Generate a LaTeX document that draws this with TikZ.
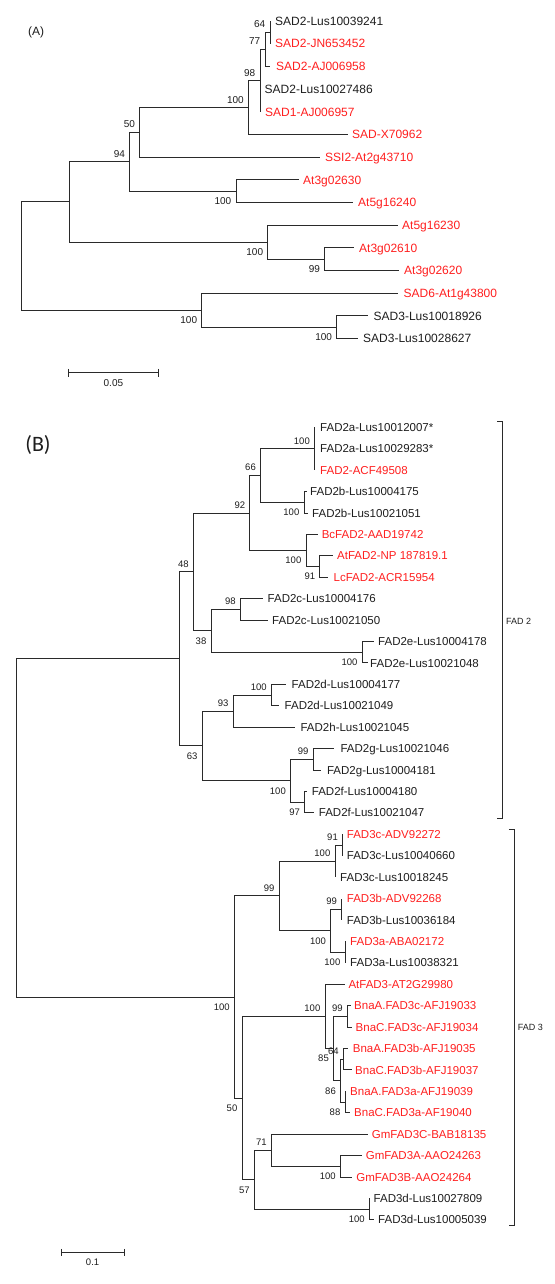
\documentclass[tikz,border=0pt]{standalone}
\usepackage{fontspec}
\setmainfont{Liberation Sans}
\newfontfamily\carlfont{Carlito}
\usetikzlibrary{calc}
\definecolor{linec}{HTML}{2A2A2A}
\definecolor{redc}{HTML}{FF1F1F}
\definecolor{blk}{HTML}{1E1E1E}
\newcommand\FontLA{\fontsize{12}{14}\selectfont}
\newcommand\FontLB{\fontsize{11.5}{13}\selectfont}
\newcommand\FontBA{\fontsize{10}{12}\selectfont}
\newcommand\FontBB{\fontsize{9.5}{11}\selectfont}
\newcommand\FontSm{\fontsize{9}{11}\selectfont}
\newcommand\TreeLeaf[8]{\coordinate (#1) at (#3,#4);\draw[br] (#2) |- (#1);\node[#6,text=#7] (t#1) at (#5,#4) {#8};}
\newcommand\TreeNode[4]{\coordinate (#1) at (#3,#4);\draw[br] (#2) |- (#1);}
\newcommand\BootUp[3]{\node[#3,anchor=east] (b#1) at ($(#1)+(-4.5,-8)$) {#2};}
\newcommand\BootDn[3]{\node[#3,anchor=east] (b#1) at ($(#1)+(-4.5,10)$) {#2};}
\begin{document}
\begin{tikzpicture}[x=1pt,y=-1pt,
  br/.style={draw=linec,line width=0.9pt},
  la/.style={anchor=west,inner sep=0pt,font=\FontLA,text height=8.6pt,text depth=0pt},
  lb/.style={anchor=west,inner sep=0pt,font=\FontLB,text height=8.25pt,text depth=0pt},
  ba/.style={inner sep=0pt,font=\FontBA,text height=7.2pt,text depth=0pt,text=blk},
  bb/.style={inner sep=0pt,font=\FontBB,text height=6.8pt,text depth=0pt,text=blk},
  sm/.style={inner sep=0pt,font=\FontSm,text height=6.5pt,text depth=0pt,text=blk}]
\fill[white] (0,0) rectangle (554,1284);
\path[use as bounding box] (0,0) rectangle (554,1284);
% ---------------- Panel A ----------------
\node[inner sep=0pt,font=\FontLA,text=blk] (labA) at (36.2,32.3) {(A)};
\coordinate (rA) at (21.6,256.04);
\TreeNode{nX}{rA}{69.6}{201.91}
\TreeNode{nAd}{rA}{201.8}{310.17}
\TreeNode{nA94}{nX}{129.7}{161.69}
\TreeNode{nAc}{nX}{267.8}{242.13}
\TreeNode{nA50}{nA94}{139.6}{132.27}
\TreeNode{nAb}{nA94}{236}{191.1}
\TreeNode{nAa}{nA50}{248.4}{107.47}
\TreeNode{nA98}{nAa}{260}{80.535}
\TreeNode{nA77}{nA98}{265}{49.35}
\TreeNode{nA64}{nA77}{270}{32.34}
\TreeNode{nA99}{nAc}{324.7}{259.14}
\TreeNode{nAe}{nAd}{336.7}{327.18}
\TreeLeaf{a0}{nA64}{270}{21}{275}{la}{blk}{SAD2-Lus10039241}
\TreeLeaf{a1}{nA64}{270}{43.68}{275}{la}{redc}{SAD2-JN653452}
\TreeLeaf{a2}{nA77}{270}{66.36}{276}{la}{redc}{SAD2-AJ006958}
\TreeLeaf{a3}{nA98}{260}{89.04}{264.5}{la}{blk}{SAD2-Lus10027486}
\TreeLeaf{a4}{nA98}{260}{111.72}{265}{la}{redc}{SAD1-AJ006957}
\TreeLeaf{a5}{nAa}{348}{134.4}{352}{la}{redc}{SAD-X70962}
\TreeLeaf{a6}{nA50}{319.8}{157.08}{325}{la}{redc}{SSI2-At2g43710}
\TreeLeaf{a7}{nAb}{298.6}{179.76}{303}{la}{redc}{At3g02630}
\TreeLeaf{a8}{nAb}{353.4}{202.44}{358}{la}{redc}{At5g16240}
\TreeLeaf{a9}{nAc}{397.5}{225.12}{402}{la}{redc}{At5g16230}
\TreeLeaf{a10}{nA99}{354.4}{247.8}{359}{la}{redc}{At3g02610}
\TreeLeaf{a11}{nA99}{398.6}{270.48}{404}{la}{redc}{At3g02620}
\TreeLeaf{a12}{nAd}{397.5}{293.16}{403.5}{la}{redc}{SAD6-At1g43800}
\TreeLeaf{a13}{nAe}{367.5}{315.84}{373.5}{la}{blk}{SAD3-Lus10018926}
\TreeLeaf{a14}{nAe}{357.6}{338.52}{363}{la}{blk}{SAD3-Lus10028627}
\BootUp{nA64}{64}{ba}
\BootUp{nA77}{77}{ba}
\BootUp{nA98}{98}{ba}
\BootUp{nAa}{100}{ba}
\BootUp{nA50}{50}{ba}
\BootUp{nA94}{94}{ba}
\BootDn{nAb}{100}{ba}
\BootDn{nAc}{100}{ba}
\BootDn{nA99}{99}{ba}
\BootDn{nAd}{100}{ba}
\BootDn{nAe}{100}{ba}
% scale bar A
\coordinate (sA1) at (68.2,372.7);
\coordinate (sA2) at (158.7,372.7);
\draw[br] (sA1) -- (sA2);
\draw[br] ($(sA1)+(0,-3.8)$) -- ($(sA1)+(0,3.8)$);
\draw[br] ($(sA2)+(0,-3.8)$) -- ($(sA2)+(0,3.8)$);
\node[ba] (sAl) at (113.4,383.3) {0.05};
% ---------------- Panel B ----------------
\node[inner sep=0pt,font=\carlfont\fontsize{22}{26}\selectfont,text=blk] (labB) at (38,445) {(B)};
\coordinate (rB) at (16.6,827.9);
\TreeNode{mF2}{rB}{179.2}{658.9}
\TreeNode{mF3}{rB}{234.3}{996.95}
\TreeNode{m48}{mF2}{193.3}{571.88}
\TreeNode{m63}{mF2}{202.1}{745.93}
\TreeNode{m92}{m48}{249.8}{512.98}
\TreeNode{m38}{m48}{211}{630.79}
\TreeNode{m66}{m92}{260.5}{475.5}
\TreeNode{m100c}{m92}{306}{550.47}
\TreeNode{m100a}{m66}{314.5}{448.72}
\TreeNode{m100b}{m66}{304}{502.27}
\TreeNode{m91}{m100c}{319.8}{566.53}
\TreeNode{m98}{m38}{240.3}{609.37}
\TreeNode{m100d}{m38}{362.2}{652.21}
\TreeNode{m93}{m63}{233.2}{711.12}
\TreeNode{m100f}{m63}{290.5}{780.73}
\TreeNode{m100e}{m93}{271.4}{695.05}
\TreeNode{m99}{m100f}{313.1}{759.31}
\TreeNode{m97}{m100f}{304.6}{802.15}
\TreeNode{m99c}{mF3}{279.2}{895.87}
\TreeNode{m50}{mF3}{242}{1098.02}
\TreeNode{m100g}{m99c}{335}{861.06}
\TreeNode{m100i}{m99c}{330.7}{930.67}
\TreeNode{m91b}{m100g}{342.5}{844.99}
\TreeNode{m99b}{m100i}{341.7}{909.25}
\TreeNode{m100h}{m100i}{345}{952.09}
\TreeNode{m100j}{m50}{325}{1016.35}
\TreeNode{m57}{m50}{254.4}{1179.68}
\TreeNode{m85}{m100j}{333.5}{1048.48}
\TreeNode{m99d}{m85}{347.3}{1016.35}
\TreeNode{m86}{m85}{340.5}{1080.61}
\TreeNode{m64}{m86}{343.3}{1059.19}
\TreeNode{m88}{m86}{345}{1102.03}
\TreeNode{m71}{m57}{271.4}{1150.23}
\TreeNode{m100l}{m57}{369.3}{1209.13}
\TreeNode{m100k}{m71}{340.3}{1166.29}
\TreeLeaf{b0}{m100a}{314.5}{427.3}{320}{lb}{blk}{FAD2a-Lus10012007*}
\TreeLeaf{b1}{m100a}{314.5}{448.72}{320}{lb}{blk}{FAD2a-Lus10029283*}
\TreeLeaf{b2}{m100a}{314.5}{470.14}{320}{lb}{redc}{FAD2-ACF49508}
\TreeLeaf{b3}{m100b}{306.7}{491.56}{310}{lb}{blk}{FAD2b-Lus10004175}
\TreeLeaf{b4}{m100b}{308.3}{512.98}{312}{lb}{blk}{FAD2b-Lus10021051}
\TreeLeaf{b5}{m100c}{318}{534.4}{321.6}{lb}{redc}{BcFAD2-AAD19742}
\TreeLeaf{b6}{m91}{333}{555.82}{337}{lb}{redc}{AtFAD2-NP 187819.1}
\TreeLeaf{b7}{m91}{328}{577.24}{333.5}{lb}{redc}{LcFAD2-ACR15954}
\TreeLeaf{b8}{m98}{263.3}{598.66}{267.5}{lb}{blk}{FAD2c-Lus10004176}
\TreeLeaf{b9}{m98}{267.5}{620.08}{272}{lb}{blk}{FAD2c-Lus10021050}
\TreeLeaf{b10}{m100d}{373.5}{641.5}{378}{lb}{blk}{FAD2e-Lus10004178}
\TreeLeaf{b11}{m100d}{367.5}{662.92}{370}{lb}{blk}{FAD2e-Lus10021048}
\TreeLeaf{b12}{m100e}{285.5}{684.34}{291.5}{lb}{blk}{FAD2d-Lus10004177}
\TreeLeaf{b13}{m100e}{279}{705.76}{284.5}{lb}{blk}{FAD2d-Lus10021049}
\TreeLeaf{b14}{m93}{295}{727.18}{300.4}{lb}{blk}{FAD2h-Lus10021045}
\TreeLeaf{b15}{m99}{334}{748.6}{340.3}{lb}{blk}{FAD2g-Lus10021046}
\TreeLeaf{b16}{m99}{320.8}{770.02}{326.9}{lb}{blk}{FAD2g-Lus10004181}
\TreeLeaf{b17}{m97}{306.7}{791.44}{311.7}{lb}{blk}{FAD2f-Lus10004180}
\TreeLeaf{b18}{m97}{313.8}{812.86}{318.7}{lb}{blk}{FAD2f-Lus10021047}
\TreeLeaf{b19}{m91b}{342.5}{834.28}{346.7}{lb}{redc}{FAD3c-ADV92272}
\TreeLeaf{b20}{m91b}{342.5}{855.7}{346.7}{lb}{blk}{FAD3c-Lus10040660}
\TreeLeaf{b21}{m100g}{335}{877.12}{340}{lb}{blk}{FAD3c-Lus10018245}
\TreeLeaf{b22}{m99b}{341.7}{898.54}{346.7}{lb}{redc}{FAD3b-ADV92268}
\TreeLeaf{b23}{m99b}{341.7}{919.96}{346.7}{lb}{blk}{FAD3b-Lus10036184}
\TreeLeaf{b24}{m100h}{345}{941.38}{350}{lb}{redc}{FAD3a-ABA02172}
\TreeLeaf{b25}{m100h}{345}{962.8}{350}{lb}{blk}{FAD3a-Lus10038321}
\TreeLeaf{b26}{m100j}{345}{984.22}{348.3}{lb}{redc}{AtFAD3-AT2G29980}
\TreeLeaf{b27}{m99d}{350.7}{1005.64}{354}{lb}{redc}{BnaA.FAD3c-AFJ19033}
\TreeLeaf{b28}{m99d}{351.5}{1027.06}{355.5}{lb}{redc}{BnaC.FAD3c-AFJ19034}
\TreeLeaf{b29}{m64}{348}{1048.48}{352.7}{lb}{redc}{BnaA.FAD3b-AFJ19035}
\TreeLeaf{b30}{m64}{351.6}{1069.9}{355}{lb}{redc}{BnaC.FAD3b-AFJ19037}
\TreeLeaf{b31}{m88}{345}{1091.32}{350}{lb}{redc}{BnaA.FAD3a-AFJ19039}
\TreeLeaf{b32}{m88}{349.8}{1112.74}{354}{lb}{redc}{BnaC.FAD3a-AF19040}
\TreeLeaf{b33}{m71}{367.5}{1134.16}{371.7}{lb}{redc}{GmFAD3C-BAB18135}
\TreeLeaf{b34}{m100k}{361.5}{1155.58}{365.7}{lb}{redc}{GmFAD3A-AAO24263}
\TreeLeaf{b35}{m100k}{351.6}{1177}{356.2}{lb}{redc}{GmFAD3B-AAO24264}
\TreeLeaf{b36}{m100l}{369.3}{1198.42}{373.5}{lb}{blk}{FAD3d-Lus10027809}
\TreeLeaf{b37}{m100l}{373.5}{1219.84}{378}{lb}{blk}{FAD3d-Lus10005039}
\BootUp{m100a}{100}{bb}
\BootUp{m66}{66}{bb}
\BootUp{m92}{92}{bb}
\BootUp{m98}{98}{bb}
\BootUp{m48}{48}{bb}
\BootUp{m100e}{100}{bb}
\BootUp{m93}{93}{bb}
\BootUp{m99}{99}{bb}
\BootUp{m91b}{91}{bb}
\BootUp{m100g}{100}{bb}
\BootUp{m99b}{99}{bb}
\BootUp{m99c}{99}{bb}
\BootUp{m99d}{99}{bb}
\BootUp{m64}{64}{bb}
\BootUp{m100j}{100}{bb}
\BootUp{m71}{71}{bb}
\BootDn{m100b}{100}{bb}
\BootDn{m100c}{100}{bb}
\BootDn{m91}{91}{bb}
\BootDn{m100d}{100}{bb}
\BootDn{m38}{38}{bb}
\BootDn{m97}{97}{bb}
\BootDn{m100f}{100}{bb}
\BootDn{m63}{63}{bb}
\BootDn{m100h}{100}{bb}
\BootDn{m100i}{100}{bb}
\BootDn{m88}{88}{bb}
\BootDn{m86}{86}{bb}
\BootDn{m85}{85}{bb}
\BootDn{m100k}{100}{bb}
\BootDn{m100l}{100}{bb}
\BootDn{m57}{57}{bb}
\BootDn{m50}{50}{bb}
\BootDn{mF3}{100}{bb}
% brackets
\coordinate (k1) at (497.3,421.7);
\coordinate (k2) at (502.7,421.7);
\coordinate (k3) at (502.7,818.3);
\coordinate (k4) at (497.3,818.3);
\draw[br] (k1) -- (k2) -- (k3) -- (k4);
\node[sm,anchor=west] (fad2) at (506,621) {FAD 2};
\coordinate (q1) at (508.8,829);
\coordinate (q2) at (514,829);
\coordinate (q3) at (514,1225.7);
\coordinate (q4) at (508.8,1225.7);
\draw[br] (q1) -- (q2) -- (q3) -- (q4);
\node[sm,anchor=west] (fad3) at (517.7,1027.3) {FAD 3};
% scale bar B
\coordinate (sB1) at (61.1,1252.3);
\coordinate (sB2) at (124.4,1252.3);
\draw[br] (sB1) -- (sB2);
\draw[br] ($(sB1)+(0,-3.5)$) -- ($(sB1)+(0,3.5)$);
\draw[br] ($(sB2)+(0,-3.5)$) -- ($(sB2)+(0,3.5)$);
\node[bb] (sBl) at (92.6,1262.3) {0.1};
\end{tikzpicture}
\end{document}
